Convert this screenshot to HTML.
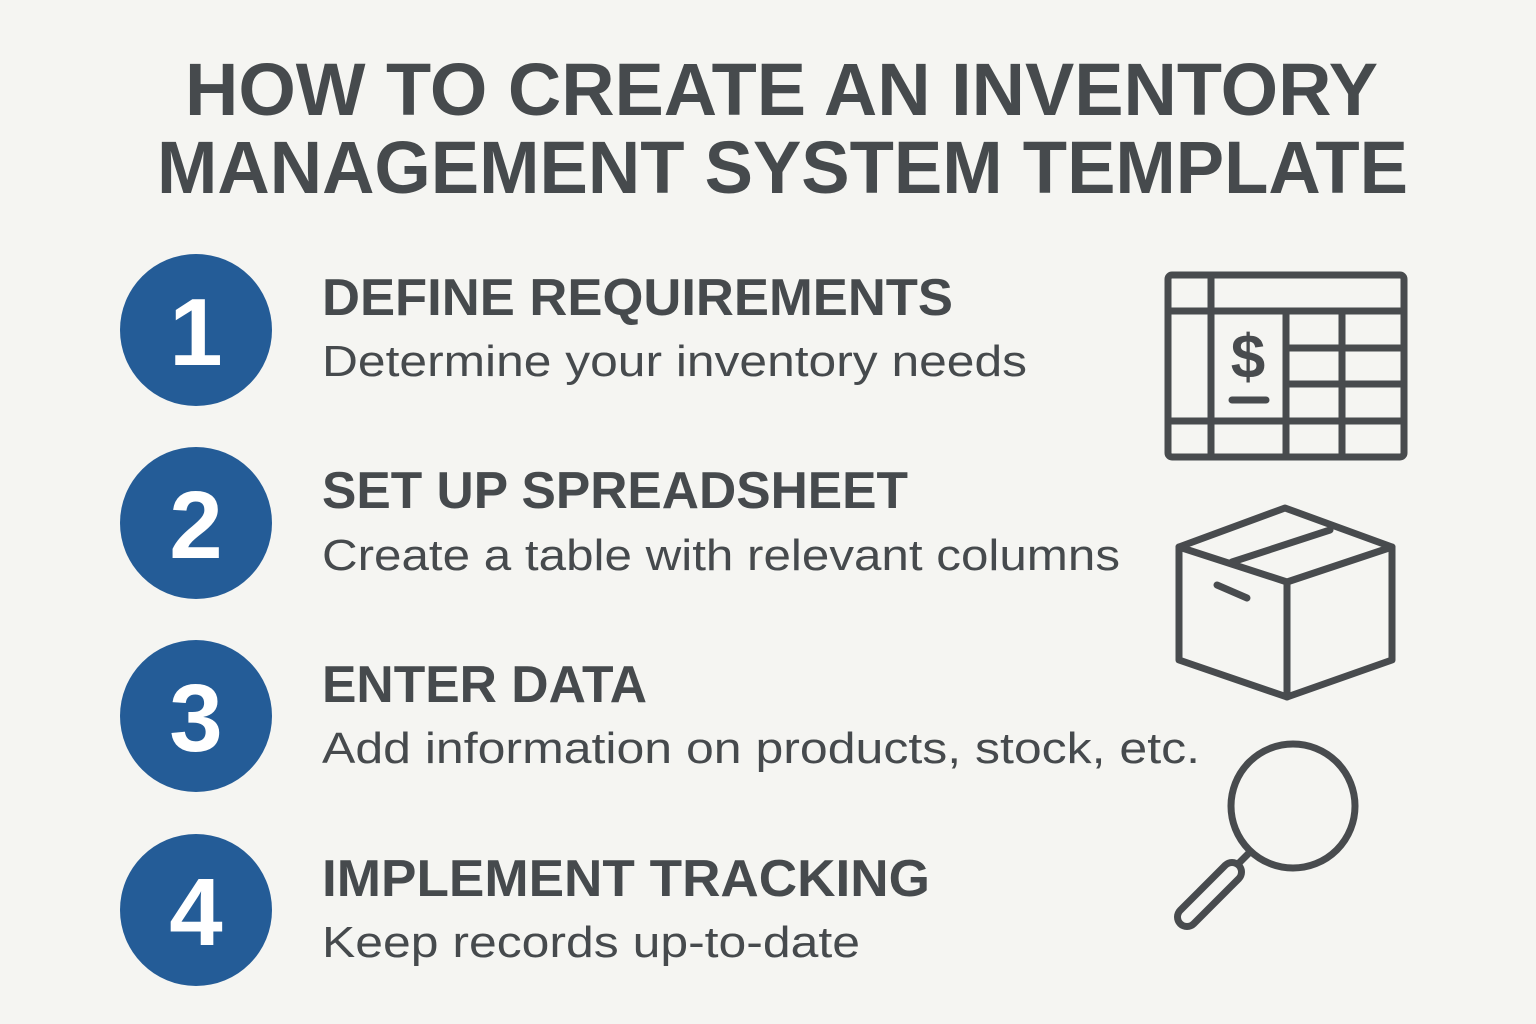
<!DOCTYPE html>
<html><head><meta charset="utf-8"><style>html,body{margin:0;padding:0;background:#f5f5f2}svg{display:block}</style></head>
<body>
<svg width="1536" height="1024" viewBox="0 0 1536 1024" xmlns="http://www.w3.org/2000/svg">
<rect width="1536" height="1024" fill="#f5f5f2"/>
<g font-family="Liberation Sans, sans-serif" fill="#464a4d" font-weight="bold">
<text x="185" y="115" font-size="74" textLength="1193" lengthAdjust="spacingAndGlyphs">HOW TO CREATE AN INVENTORY</text>
<text x="157" y="193" font-size="74" textLength="1251" lengthAdjust="spacingAndGlyphs">MANAGEMENT SYSTEM TEMPLATE</text>
<text x="322" y="315" font-size="52" textLength="631" lengthAdjust="spacingAndGlyphs">DEFINE REQUIREMENTS</text>
<text x="322" y="508" font-size="52" textLength="586" lengthAdjust="spacingAndGlyphs">SET UP SPREADSHEET</text>
<text x="322" y="702" font-size="52" textLength="325" lengthAdjust="spacingAndGlyphs">ENTER DATA</text>
<text x="322" y="896" font-size="52" textLength="608" lengthAdjust="spacingAndGlyphs">IMPLEMENT TRACKING</text>
</g>
<g font-family="Liberation Sans, sans-serif" fill="#464a4d" font-size="44">
<text x="322" y="376" textLength="705" lengthAdjust="spacingAndGlyphs">Determine your inventory needs</text>
<text x="322" y="570" textLength="798" lengthAdjust="spacingAndGlyphs">Create a table with relevant columns</text>
<text x="322" y="763" textLength="878" lengthAdjust="spacingAndGlyphs">Add information on products, stock, etc.</text>
<text x="322" y="957" textLength="538" lengthAdjust="spacingAndGlyphs">Keep records up-to-date</text>
</g>
<g fill="#245c97">
<circle cx="196" cy="330" r="76"/><circle cx="196" cy="523" r="76"/><circle cx="196" cy="716" r="76"/><circle cx="196" cy="910" r="76"/>
</g>
<g font-family="Liberation Sans, sans-serif" fill="#fff" font-weight="bold" font-size="96" text-anchor="middle">
<text x="196" y="365">1</text><text x="196" y="558">2</text><text x="196" y="751">3</text><text x="196" y="945">4</text>
</g>
<g fill="none" stroke="#484b4e" stroke-width="7" stroke-linecap="round" stroke-linejoin="round">
<rect x="1168" y="275" width="236" height="182" rx="4"/>
<line x1="1211" y1="275" x2="1211" y2="457"/>
<line x1="1168" y1="311" x2="1404" y2="311"/>
<line x1="1286" y1="311" x2="1286" y2="457"/>
<line x1="1342" y1="311" x2="1342" y2="457"/>
<line x1="1286" y1="348" x2="1404" y2="348"/>
<line x1="1286" y1="384" x2="1404" y2="384"/>
<line x1="1168" y1="421" x2="1404" y2="421"/>
<line x1="1232" y1="400" x2="1266" y2="400"/>
<polygon points="1285,508 1392,547 1392,660 1287,697 1179,660 1179,547"/>
<polyline points="1179,547 1287,582 1392,547"/>
<line x1="1287" y1="582" x2="1287" y2="697"/>
<line x1="1232" y1="562" x2="1330" y2="530"/>
<line x1="1217" y1="585" x2="1247" y2="598"/>
<circle cx="1293" cy="806" r="62"/>
<line x1="1250" y1="852" x2="1232" y2="870"/>
</g>
<line x1="1232" y1="872" x2="1187" y2="917" stroke="#484b4e" stroke-width="26" stroke-linecap="round"/>
<line x1="1232" y1="872" x2="1187" y2="917" stroke="#f5f5f2" stroke-width="12" stroke-linecap="round"/>
<text x="1248" y="378" font-family="Liberation Sans, sans-serif" font-size="62" font-weight="bold" fill="#484b4e" text-anchor="middle">$</text>
</svg>
</body></html>
